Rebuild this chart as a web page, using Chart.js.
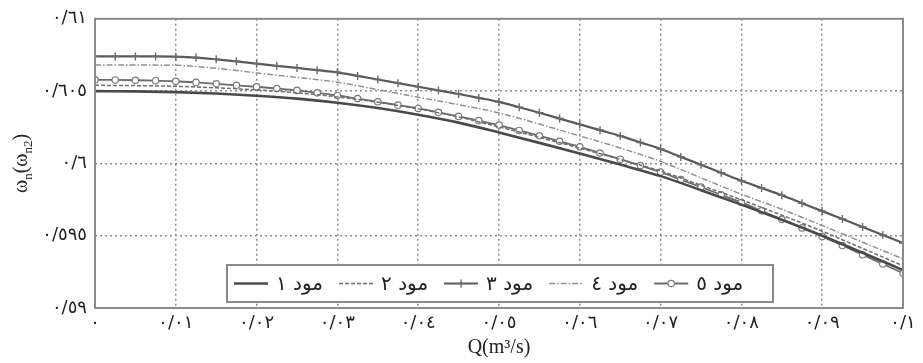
<!DOCTYPE html>
<html lang="fa">
<head>
  <meta charset="UTF-8">
  <title>ωn(ωn2) - Q</title>
  <script src="https://cdn.jsdelivr.net/npm/chart.js"></script>
  <style>
    html, body { margin: 0; padding: 0; background: #fff; }
    #wrap { width: 923px; height: 363px; }
  </style>
</head>
<body>
  <div id="wrap"><canvas id="chart" width="923" height="363"></canvas></div>

  <script>
    // --- data ---
    const seriesNames = ['مود ١', 'مود ٢', 'مود ٣', 'مود ٤', 'مود ٥'];

    // 21 samples (every 0.005) for the plain lines
    const q21 = [0, 0.005, 0.01, 0.015, 0.02, 0.025, 0.03, 0.035, 0.04, 0.045, 0.05,
                 0.055, 0.06, 0.065, 0.07, 0.075, 0.08, 0.085, 0.09, 0.095, 0.1];
    // 41 samples (every 0.0025) for the lines with markers
    const q41 = [0, 0.0025, 0.005, 0.0075, 0.01, 0.0125, 0.015, 0.0175, 0.02, 0.0225,
                 0.025, 0.0275, 0.03, 0.0325, 0.035, 0.0375, 0.04, 0.0425, 0.045, 0.0475,
                 0.05, 0.0525, 0.055, 0.0575, 0.06, 0.0625, 0.065, 0.0675, 0.07, 0.0725,
                 0.075, 0.0775, 0.08, 0.0825, 0.085, 0.0875, 0.09, 0.0925, 0.095, 0.0975, 0.1];

    const mode1 = [0.60500, 0.60498, 0.60493, 0.60483, 0.60468, 0.60448, 0.60420, 0.60383, 0.60337, 0.60282, 0.60214,
                   0.60142, 0.60068, 0.59992, 0.59912, 0.59815, 0.59715, 0.59610, 0.59500, 0.59382, 0.59262];
    const mode2 = [0.60540, 0.60538, 0.60533, 0.60523, 0.60508, 0.60488, 0.60460, 0.60423, 0.60377, 0.60321, 0.60252,
                   0.60180, 0.60105, 0.60028, 0.59947, 0.59849, 0.59748, 0.59642, 0.59531, 0.59412, 0.59292];
    const mode3 = [0.60740, 0.60740, 0.60740, 0.60740, 0.60738, 0.60732, 0.60720, 0.60706, 0.60690, 0.60675,
                   0.60660, 0.60645, 0.60630, 0.60605, 0.60580, 0.60555, 0.60530, 0.60505, 0.60480, 0.60453,
                   0.60425, 0.60388, 0.60350, 0.60310, 0.60270, 0.60230, 0.60190, 0.60145, 0.60100, 0.60045,
                   0.59990, 0.59935, 0.59880, 0.59830, 0.59780, 0.59725, 0.59670, 0.59615, 0.59560, 0.59505, 0.59450];
    const mode4 = [0.60680, 0.60680, 0.60678, 0.60658, 0.60626, 0.60594, 0.60562, 0.60510, 0.60458, 0.60406, 0.60349,
                   0.60272, 0.60190, 0.60107, 0.60014, 0.59900, 0.59787, 0.59683, 0.59570, 0.59455, 0.59340];
    const mode5 = [0.60578, 0.60577, 0.60575, 0.60572, 0.60568, 0.60560, 0.60550, 0.60540, 0.60530, 0.60518,
                   0.60505, 0.60488, 0.60470, 0.60448, 0.60426, 0.60403, 0.60380, 0.60353, 0.60325, 0.60296,
                   0.60265, 0.60228, 0.60191, 0.60153, 0.60115, 0.60072, 0.60029, 0.59985, 0.59940, 0.59888,
                   0.59836, 0.59783, 0.59730, 0.59672, 0.59613, 0.59554, 0.59495, 0.59432, 0.59368, 0.59304, 0.59240];

    const xTickLabels = ['٠', '٠/٠١', '٠/٠٢', '٠/٠٣', '٠/٠٤', '٠/٠٥', '٠/٠٦', '٠/٠٧', '٠/٠٨', '٠/٠٩', '٠/١'];
    const yTickLabels = ['٠/٥٩', '٠/٥٩٥', '٠/٦', '٠/٦٠٥', '٠/٦١'];
    const xTitle = 'Q(m³/s)';

    const pts = (xs, ys) => ys.map((y, i) => ({ x: xs[i], y: y }));

    const arabicFont = "'DejaVu Sans', sans-serif";
    const serifFont = "'Liberation Serif', 'DejaVu Serif', serif";

    // plot frame, y title with subscripts, and the boxed legend inside the plot
    const decorations = {
      id: 'decorations',
      afterDraw(chart) {
        const ctx = chart.ctx;
        const a = chart.chartArea;
        ctx.save();

        ctx.strokeStyle = '#8a8a8a';
        ctx.lineWidth = 2;
        ctx.strokeRect(a.left, a.top, a.right - a.left, a.bottom - a.top);

        // y axis title: ωn(ωn2)
        const parts = [
          ['ω', 20, 0], ['n', 13, 5], ['(', 20, 0], ['ω', 20, 0], ['n2', 13, 5], [')', 20, 0]
        ];
        let total = 0;
        parts.forEach(p => { ctx.font = p[1] + 'px ' + serifFont; total += ctx.measureText(p[0]).width; });
        ctx.translate(27, (a.top + a.bottom) / 2);
        ctx.rotate(-Math.PI / 2);
        ctx.fillStyle = '#222';
        ctx.textBaseline = 'alphabetic';
        ctx.textAlign = 'left';
        let px = -total / 2;
        parts.forEach(p => {
          ctx.font = p[1] + 'px ' + serifFont;
          ctx.fillText(p[0], px, 0 + p[2]);
          px += ctx.measureText(p[0]).width;
        });
        ctx.setTransform(1, 0, 0, 1, 0, 0);

        // legend
        const box = { left: a.left + 132, top: a.bottom - 43, width: 546, height: 37 };
        ctx.fillStyle = '#fff';
        ctx.fillRect(box.left, box.top, box.width, box.height);
        ctx.strokeStyle = '#8a8a8a';
        ctx.lineWidth = 2;
        ctx.strokeRect(box.left, box.top, box.width, box.height);

        const cy = box.top + box.height / 2;
        let x = box.left + 7;
        chart.data.datasets.forEach(ds => {
          ctx.save();
          ctx.strokeStyle = ds.borderColor;
          ctx.lineWidth = ds.borderWidth;
          ctx.setLineDash(ds.borderDash || []);
          ctx.beginPath();
          ctx.moveTo(x, cy);
          ctx.lineTo(x + 34, cy);
          ctx.stroke();
          ctx.restore();
          if (ds.pointRadius > 0) {
            ctx.save();
            ctx.strokeStyle = ds.pointBorderColor;
            ctx.fillStyle = ds.pointBackgroundColor;
            ctx.lineWidth = ds.pointBorderWidth;
            Chart.helpers.drawPoint(ctx, { pointStyle: ds.pointStyle, radius: ds.pointRadius, rotation: 0, borderWidth: ds.pointBorderWidth }, x + 17, cy);
            ctx.restore();
          }
          ctx.font = '20px ' + arabicFont;
          ctx.fillStyle = '#222';
          ctx.textBaseline = 'middle';
          ctx.textAlign = 'left';
          ctx.fillText(ds.label, x + 42, cy + 1);
          x += 42 + ctx.measureText(ds.label).width + 16;
        });
        ctx.restore();
      }
    };

    new Chart(document.getElementById('chart'), {
      type: 'line',
      data: {
        datasets: [
          {
            label: seriesNames[0], data: pts(q21, mode1),
            borderColor: '#4a4a4a', borderWidth: 2.6, pointRadius: 0,
            cubicInterpolationMode: 'monotone'
          },
          {
            label: seriesNames[1], data: pts(q21, mode2),
            borderColor: '#6e6e6e', borderWidth: 1.5, borderDash: [4, 2], pointRadius: 0,
            cubicInterpolationMode: 'monotone'
          },
          {
            label: seriesNames[2], data: pts(q41, mode3),
            borderColor: '#5a5a5a', borderWidth: 2.2,
            pointStyle: 'cross', pointRadius: 4, pointBorderWidth: 1.4,
            pointBorderColor: '#6a6a6a', pointBackgroundColor: '#6a6a6a',
            cubicInterpolationMode: 'monotone'
          },
          {
            label: seriesNames[3], data: pts(q21, mode4),
            borderColor: '#909090', borderWidth: 1.5, borderDash: [6, 2, 1.5, 2], pointRadius: 0,
            cubicInterpolationMode: 'monotone'
          },
          {
            label: seriesNames[4], data: pts(q41, mode5),
            borderColor: '#6c6c6c', borderWidth: 1.8,
            pointStyle: 'circle', pointRadius: 3.2, pointBorderWidth: 1.2,
            pointBorderColor: '#7a7a7a', pointBackgroundColor: '#ffffff',
            cubicInterpolationMode: 'monotone'
          }
        ]
      },
      options: {
        responsive: false,
        animation: false,
        events: [],
        layout: { padding: { top: 16, right: 20, left: 0, bottom: 0 } },
        plugins: {
          legend: { display: false },
          tooltip: { enabled: false }
        },
        scales: {
          x: {
            type: 'linear', min: 0, max: 0.1,
            afterFit: s => { s.height = 55; },
            afterBuildTicks: s => { s.ticks = xTickLabels.map((t, i) => ({ value: i * 0.01 })); },
            ticks: {
              autoSkip: false, maxRotation: 0, padding: 5,
              color: '#222', font: { family: arabicFont, size: 18 },
              callback: (v, i) => xTickLabels[i]
            },
            grid: { color: '#8e8e8e', lineWidth: 1.5, drawTicks: false },
            border: { display: false, dash: [2, 3] },
            title: {
              display: true, text: xTitle, color: '#222',
              font: { family: serifFont, size: 20 }, padding: { top: 0, bottom: 3 }
            }
          },
          y: {
            type: 'linear', min: 0.59, max: 0.61,
            afterFit: s => { s.width = 95; },
            afterBuildTicks: s => { s.ticks = yTickLabels.map((t, i) => ({ value: 0.59 + i * 0.005 })); },
            ticks: {
              autoSkip: false, padding: 8,
              color: '#222', font: { family: arabicFont, size: 18 },
              callback: (v, i) => yTickLabels[i]
            },
            grid: { color: '#8e8e8e', lineWidth: 1.5, drawTicks: false },
            border: { display: false, dash: [2, 3] }
          }
        }
      },
      plugins: [decorations]
    });
  </script>
</body>
</html>
